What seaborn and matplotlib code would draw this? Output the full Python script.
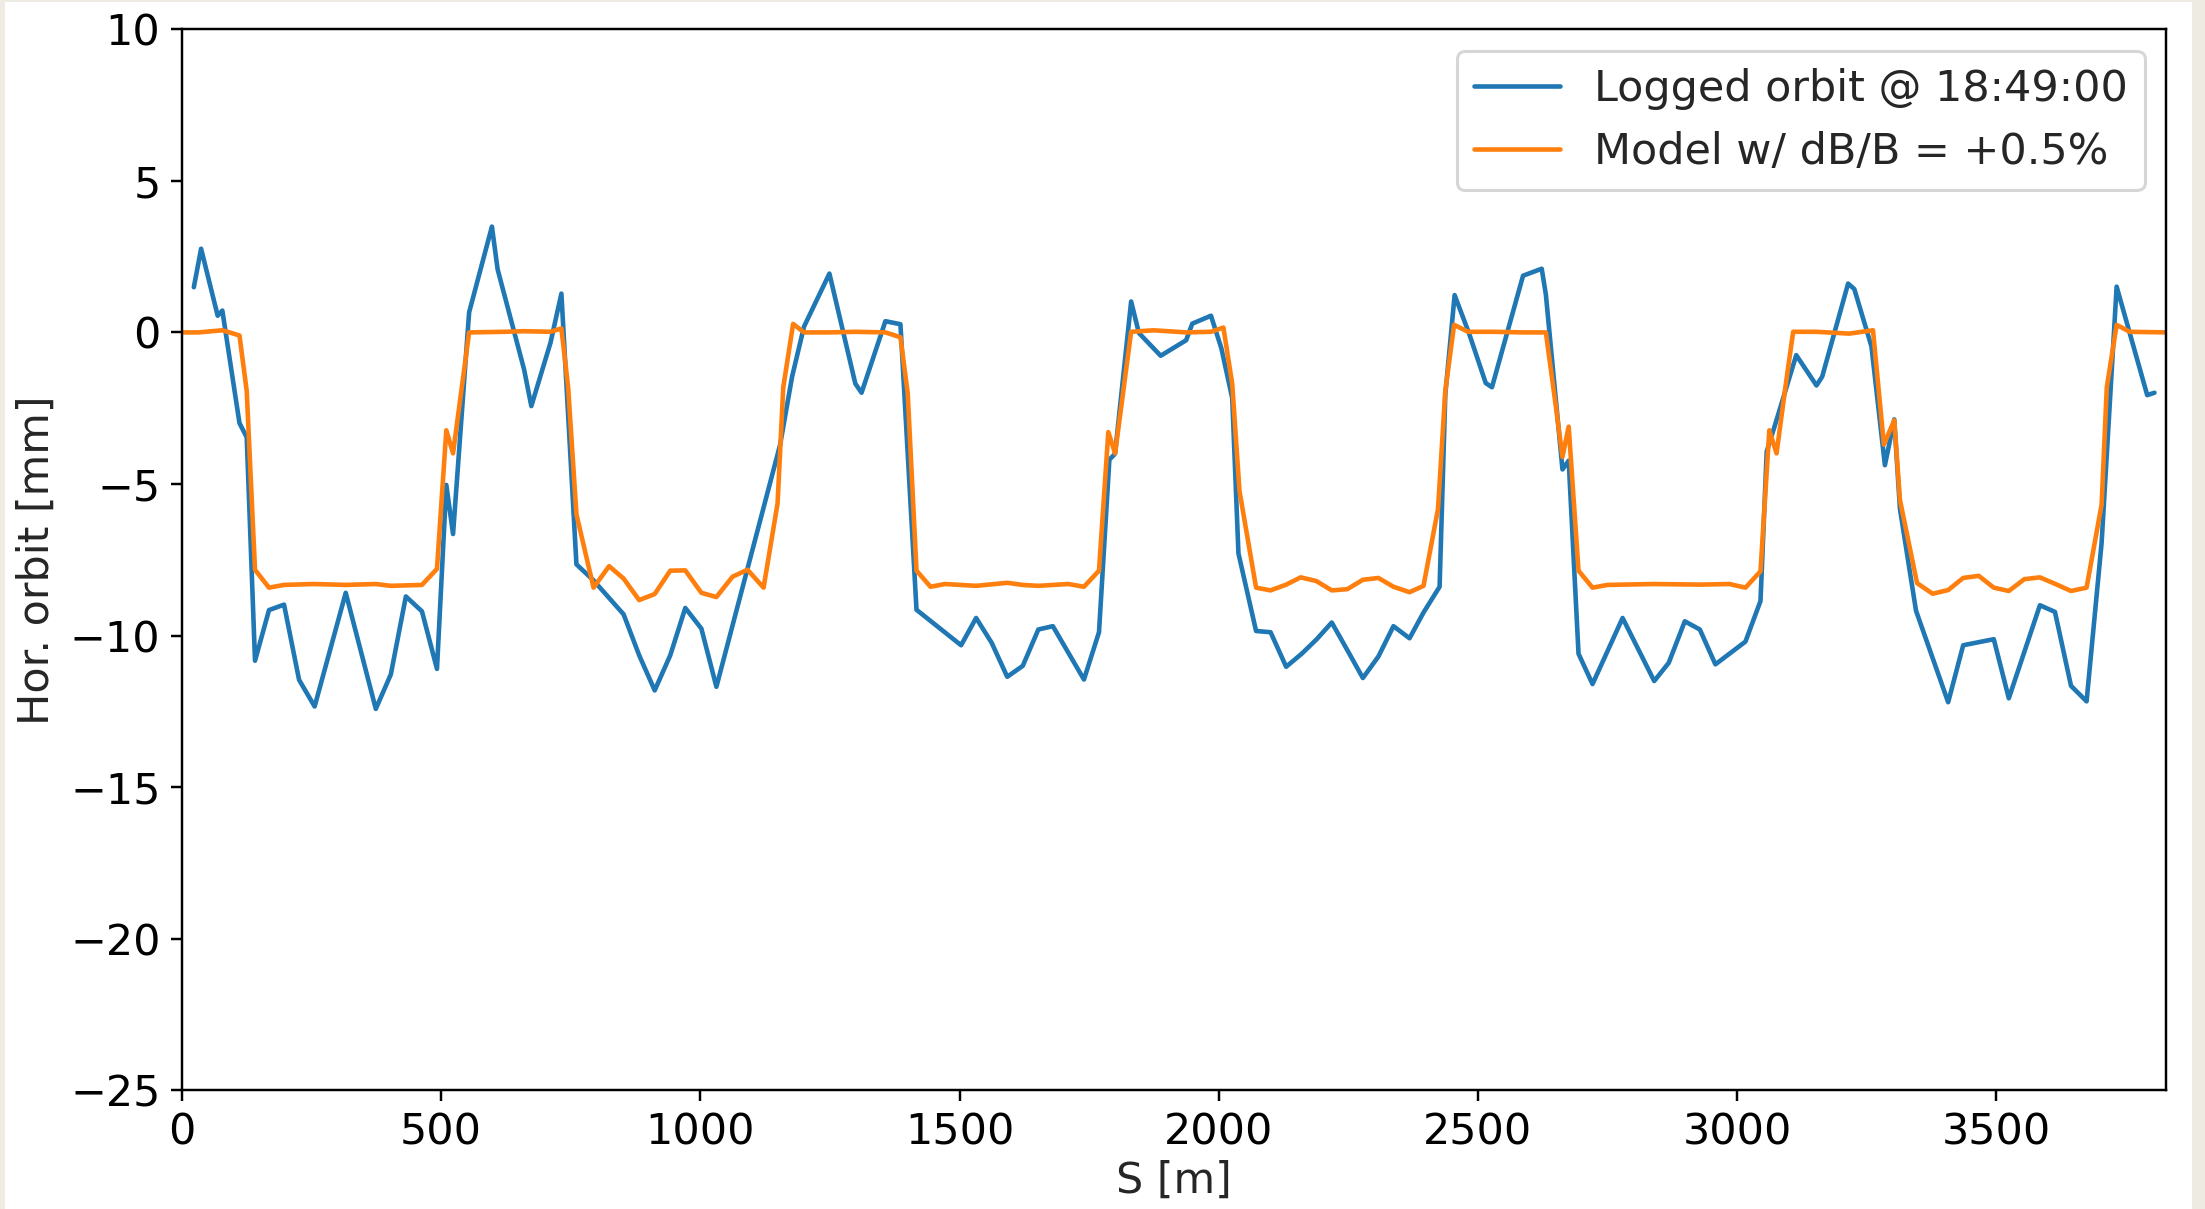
"""
Orbit comparison plot: logged horizontal orbit vs. model with dB/B offset.
"""
import matplotlib
matplotlib.use("Agg")
import matplotlib.pyplot as plt
from matplotlib.patches import Rectangle
import pandas as pd
import seaborn as sns

# logged BPM readings (S [m], x [mm])
logged_s = [23, 37, 69, 78, 111, 125, 141, 168, 197, 226, 256, 316, 374, 403,
            432, 463, 492, 510, 523, 554, 598, 609, 660, 674, 711, 732, 761,
            794, 852, 882, 912, 942, 971, 1002, 1031, 1154, 1177, 1200, 1249,
            1299, 1311, 1357, 1386, 1417, 1503, 1532, 1562, 1592, 1622, 1652,
            1680, 1740, 1769, 1789, 1800, 1831, 1846, 1888, 1937, 1949, 1985,
            2005, 2026, 2038, 2072, 2100, 2130, 2160, 2189, 2218, 2248, 2278,
            2308, 2337, 2368, 2395, 2426, 2437, 2455, 2483, 2515, 2527, 2587,
            2623, 2631, 2663, 2675, 2694, 2721, 2779, 2840, 2868, 2899, 2928,
            2958, 3016, 3045, 3057, 3072, 3114, 3153, 3164, 3214, 3226, 3259,
            3285, 3303, 3314, 3345, 3407, 3436, 3495, 3524, 3584, 3613, 3644,
            3674, 3703, 3732, 3791, 3805]
logged_x = [1.49, 2.76, 0.55, 0.72, -2.99, -3.46, -10.83, -9.16, -8.98, -11.46,
            -12.34, -8.59, -12.42, -11.28, -8.71, -9.2, -11.1, -5.03, -6.65,
            0.66, 3.49, 2.08, -1.22, -2.43, -0.34, 1.28, -7.65, -8.18, -9.3,
            -10.65, -11.81, -10.65, -9.09, -9.77, -11.69, -3.7, -1.46, 0.19,
            1.94, -1.69, -1.99, 0.37, 0.27, -9.15, -10.32, -9.42, -10.24,
            -11.36, -11.0, -9.8, -9.69, -11.45, -9.89, -4.2, -4.0, 1.02, -0.02,
            -0.77, -0.26, 0.29, 0.55, -0.52, -2.17, -7.29, -9.85, -9.89, -11.03,
            -10.6, -10.12, -9.57, -10.48, -11.4, -10.69, -9.69, -10.09, -9.24,
            -8.39, -2.05, 1.23, -0.04, -1.67, -1.81, 1.87, 2.1, 1.25, -4.52,
            -4.23, -10.6, -11.6, -9.42, -11.5, -10.9, -9.53, -9.8, -10.95,
            -10.2, -8.86, -3.93, -3.11, -0.75, -1.75, -1.46, 1.61, 1.43, -0.46,
            -4.38, -2.87, -5.82, -9.18, -12.2, -10.32, -10.12, -12.07, -9.0,
            -9.22, -11.66, -12.17, -6.94, 1.51, -2.07, -1.99]

# model orbit for dB/B = +0.5 %
model_s = [0, 32, 78, 111, 125, 141, 168, 197, 254, 316, 374, 403, 463, 492,
           510, 523, 554, 623, 660, 711, 732, 745, 761, 794, 824, 852, 882,
           912, 942, 971, 1002, 1031, 1062, 1091, 1122, 1149, 1160, 1179, 1200,
           1249, 1299, 1357, 1386, 1400, 1417, 1444, 1472, 1532, 1592, 1622,
           1652, 1710, 1740, 1769, 1787, 1800, 1831, 1874, 1938, 1985, 2009,
           2026, 2040, 2072, 2100, 2130, 2158, 2188, 2218, 2248, 2278, 2308,
           2337, 2368, 2395, 2423, 2437, 2454, 2481, 2529, 2587, 2631, 2649,
           2663, 2675, 2694, 2721, 2750, 2840, 2928, 2985, 3016, 3045, 3062,
           3076, 3093, 3108, 3153, 3216, 3262, 3283, 3303, 3314, 3347, 3377,
           3407, 3436, 3466, 3495, 3524, 3554, 3584, 3614, 3644, 3674, 3703,
           3713, 3732, 3757, 3828]
model_x = [0, 0, 0.07, -0.1, -1.93, -7.83, -8.42, -8.33, -8.3, -8.33, -8.3,
           -8.36, -8.33, -7.8, -3.23, -3.99, 0, 0.02, 0.04, 0.02, 0.13, -1.81,
           -6.0, -8.42, -7.71, -8.12, -8.83, -8.63, -7.86, -7.85, -8.59, -8.73,
           -8.06, -7.83, -8.42, -5.64, -1.81, 0.28, 0, 0, 0.02, 0, -0.16, -2.0,
           -7.86, -8.39, -8.3, -8.36, -8.26, -8.33, -8.36, -8.3, -8.39, -7.86,
           -3.29, -3.99, 0.02, 0.07, 0, 0.02, 0.16, -1.7, -5.23, -8.42, -8.51,
           -8.32, -8.08, -8.2, -8.51, -8.47, -8.16, -8.1, -8.39, -8.57, -8.36,
           -5.82, -1.93, 0.25, 0.02, 0.02, 0, 0, -2.28, -4.11, -3.11, -7.86,
           -8.42, -8.33, -8.3, -8.32, -8.3, -8.42, -7.88, -3.23, -3.99, -1.81,
           0.02, 0.02, -0.04, 0.07, -3.7, -2.9, -5.53, -8.27, -8.62, -8.5,
           -8.1, -8.03, -8.42, -8.53, -8.14, -8.08, -8.3, -8.53, -8.42, -5.68,
           -1.81, 0.25, 0.02, 0]

sns.set_theme(style="ticks", font_scale=1.0)
plt.rcParams["font.family"] = ["DejaVu Sans"]
plt.rcParams["axes.edgecolor"] = "black"
plt.rcParams["xtick.color"] = "black"
plt.rcParams["ytick.color"] = "black"

logged = pd.DataFrame({"S": logged_s, "x": logged_x})
model = pd.DataFrame({"S": model_s, "x": model_x})

fig = plt.figure(figsize=(10, 5.483), dpi=220.5, facecolor="#EEEBE3")
# white page inside the light frame of the screenshot
fig.patches.append(Rectangle((6 / 2205, 0), 2184 / 2205, 1206 / 1209,
                             transform=fig.transFigure, color="white", zorder=-1))
ax = fig.add_axes([0.0825, 0.0982, 0.9, 0.8776])

sns.lineplot(data=logged, x="S", y="x", ax=ax, color="#1f77b4", lw=1.5,
             estimator=None, sort=False, label="Logged orbit @ 18:49:00")
sns.lineplot(data=model, x="S", y="x", ax=ax, color="#ff7f0e", lw=1.5,
             estimator=None, sort=False, label="Model w/ dB/B = +0.5%")

ax.set_xlim(0, 3828)
ax.set_ylim(-25, 10)
ax.set_xticks([0, 500, 1000, 1500, 2000, 2500, 3000, 3500])
ax.set_yticks([10, 5, 0, -5, -10, -15, -20, -25])
ax.tick_params(labelsize=14, length=3.5, width=0.8)
ax.set_xlabel("S [m]", fontsize=14, labelpad=2)
ax.set_ylabel("Hor. orbit [mm]", fontsize=14)
for sp in ax.spines.values():
    sp.set_linewidth(0.8)
ax.legend(loc="upper right", fontsize=14, frameon=True)

fig.savefig("out.png", dpi=220.5)
plt.close(fig)
